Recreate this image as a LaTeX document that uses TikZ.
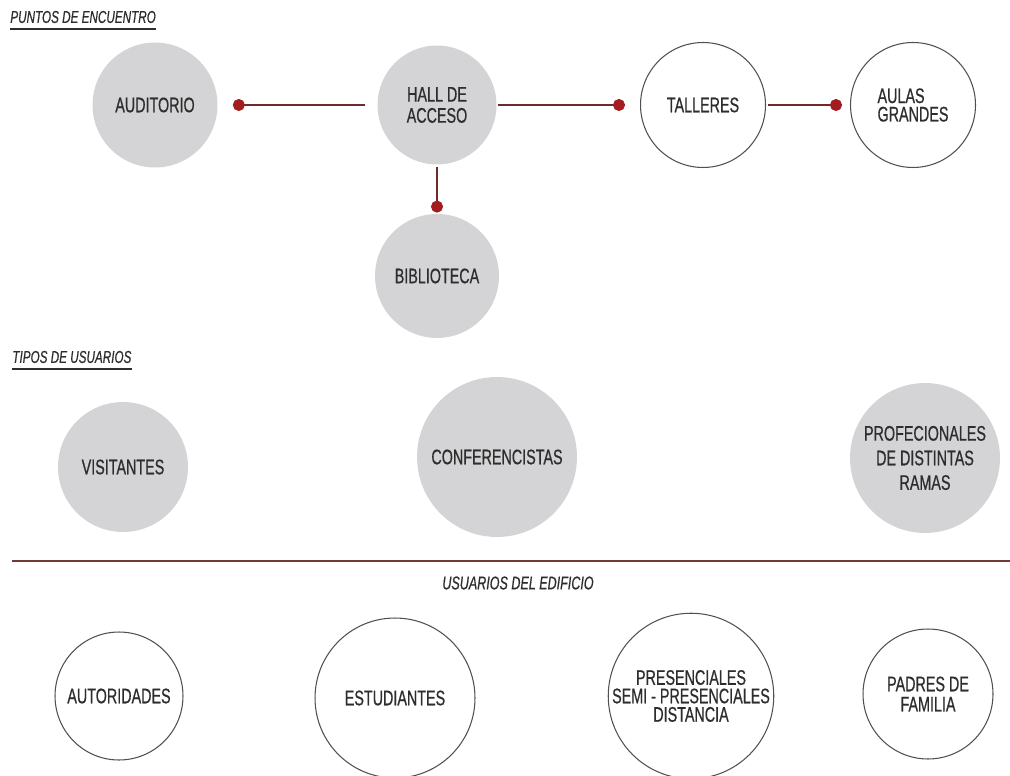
\documentclass[tikz,border=0pt]{standalone}
\usepackage{fontspec}
\setmainfont{Liberation Sans}[FakeStretch=0.68, FakeBold=0.6]
\usepackage{tikz}
\usetikzlibrary{positioning,arrows.meta}

\definecolor{gris}{RGB}{212,212,214}
\definecolor{borde}{RGB}{80,80,80}
\definecolor{vino}{RGB}{112,42,42}
\definecolor{rojo}{RGB}{162,28,32}
\definecolor{texto}{RGB}{45,45,45}

\tikzset{
  lugar/.style={circle, fill=gris, inner sep=0pt, text=texto, align=center,
    font=\fontsize{12}{12}\selectfont},
  usuario/.style={circle, draw=borde, line width=0.6pt, inner sep=0pt, text=texto,
    align=center, font=\fontsize{12}{10.5}\selectfont},
  enlace/.style={draw=vino, line width=0.9pt, -{Circle[length=0.24cm, color=rojo]}},
  titulo/.style={font=\fontsize{9.8}{10}\selectfont\itshape, text=texto,
    inner xsep=0pt, inner ysep=3pt, anchor=west},
  subrayado/.style={draw=texto, line width=0.9pt},
  divisor/.style={draw=vino!85!gray, line width=0.9pt}
}

\begin{document}
\begin{tikzpicture}[x=0.02cm, y=-0.02cm]
\useasboundingbox (0,0) rectangle (1010,776);

% Nodes
% puntos de encuentro
\node[titulo](puntos) at (10,17) {PUNTOS DE ENCUENTRO};
\node[lugar, minimum size=2.5cm](auditorio) at (155,105) {AUDITORIO};
\node[lugar, minimum size=2.38cm](hall) at (437,105) {HALL DE\\ACCESO};
\node[usuario, minimum size=2.5cm](talleres) at (703,105) {TALLERES};
\node[usuario, minimum size=2.5cm, align=left](aulas) at (913,105) {AULAS\\GRANDES};
\node[lugar, minimum size=2.48cm, on grid, below=3.42cm of hall](biblioteca) {BIBLIOTECA};

% tipos de usuarios
\node[titulo](tipos) at (12,357) {TIPOS DE USUARIOS};
\node[lugar, minimum size=2.6cm](visitantes) at (123,467) {VISITANTES};
\node[lugar, minimum size=3.2cm](conferencistas) at (497,457) {CONFERENCISTAS};
\node[lugar, minimum size=3cm](profesionales) at (925,458) {PROFECIONALES\\[2pt]DE DISTINTAS\\[2pt]RAMAS};

% usuarios del edificio
\coordinate (divI) at (12,561);
\coordinate (divD) at (1010,561);
\node[titulo, anchor=center, font=\fontsize{10.5}{11}\selectfont\itshape](edificio) at (518,583) {USUARIOS DEL EDIFICIO};
\node[usuario, minimum size=2.56cm](autoridades) at (119,696) {AUTORIDADES};
\node[usuario, minimum size=3.2cm](estudiantes) at (395,698) {ESTUDIANTES};
\node[usuario, minimum size=3.16cm](modalidad) at (691,696) {PRESENCIALES\\SEMI - PRESENCIALES\\DISTANCIA};
\node[usuario, minimum size=2.6cm](padres) at (928,694) {PADRES DE\\[1pt]FAMILIA};

% Edges
\draw[subrayado] (puntos.south west) -- (puntos.south east);
\draw[subrayado] (tipos.south west) -- (tipos.south east);
\draw[enlace, shorten <=0.24cm, shorten >=0.3cm] (hall) -- (auditorio);
\draw[enlace, shorten <=0.02cm, shorten >=0.3cm] (hall) -- (talleres);
\draw[enlace, shorten <=0.04cm, shorten >=0.16cm] (talleres) -- (aulas);
\draw[enlace, shorten <=0.04cm, shorten >=0.02cm] (hall) -- (biblioteca);
\draw[divisor] (divI) -- (divD);

\end{tikzpicture}
\end{document}
